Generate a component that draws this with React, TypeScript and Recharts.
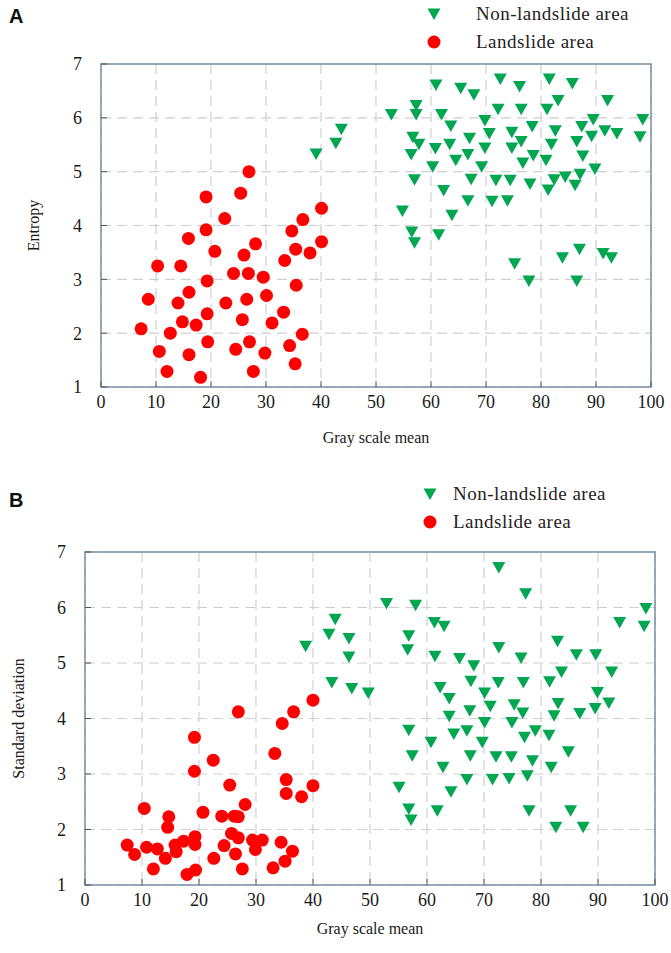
import React from 'react';
import { ScatterChart, Scatter, XAxis, YAxis, CartesianGrid, ReferenceArea, Legend } from 'recharts';

const GREEN = '#00a651';
const RED = '#ff0000';
const FRAME = '#7890ab';
const SERIF = '"Liberation Serif", "Times New Roman", serif';

const xTicks = [0, 10, 20, 30, 40, 50, 60, 70, 80, 90, 100];
const yTicks = [1, 2, 3, 4, 5, 6, 7];
const nonLandslideName = 'Non-landslide area';
const landslideName = 'Landslide area';
const legendOrder = [nonLandslideName, landslideName];

// panel A: gray scale mean vs entropy
const aNonX = [60.9, 65.4, 67.8, 72.6, 76.1, 81.5, 85.7, 83.1, 92.1, 57.3, 57.3, 52.8, 61.9, 72.2, 76.4, 81.1, 69.8, 63.6, 89.5, 98.5, 43.7, 42.7, 39.1, 78.4, 70.6, 74.7, 82.6, 87.4, 89.2, 91.6, 93.8, 98.0, 56.7, 57.8, 67.0, 63.4, 60.8, 56.4, 69.8, 74.7, 76.4, 81.9, 86.5, 66.7, 64.5, 78.6, 76.7, 80.9, 87.6, 60.3, 69.2, 89.8, 57.0, 67.3, 71.8, 74.4, 78.0, 82.4, 84.4, 87.1, 81.3, 86.2, 62.3, 66.7, 71.1, 73.9, 54.8, 63.8, 56.5, 57.0, 61.4, 75.2, 77.8, 83.9, 87.0, 86.5, 91.3, 92.8];
const aNonY = [6.61, 6.55, 6.43, 6.72, 6.58, 6.72, 6.64, 6.32, 6.32, 6.23, 6.06, 6.06, 6.06, 6.16, 6.16, 6.16, 5.95, 5.85, 5.97, 5.97, 5.79, 5.53, 5.33, 5.84, 5.71, 5.73, 5.76, 5.84, 5.66, 5.76, 5.71, 5.65, 5.64, 5.51, 5.62, 5.51, 5.43, 5.32, 5.44, 5.44, 5.56, 5.51, 5.56, 5.32, 5.21, 5.30, 5.16, 5.21, 5.29, 5.09, 5.09, 5.05, 4.85, 4.86, 4.84, 4.84, 4.77, 4.85, 4.90, 4.95, 4.66, 4.75, 4.65, 4.46, 4.45, 4.46, 4.27, 4.19, 3.88, 3.68, 3.83, 3.29, 2.97, 3.40, 3.56, 2.97, 3.48, 3.40];
const aLandX = [26.9, 19.1, 25.4, 40.1, 22.5, 36.7, 19.1, 34.7, 15.9, 40.1, 28.1, 20.7, 35.4, 26.0, 38.0, 33.4, 10.3, 14.5, 24.1, 26.8, 29.5, 19.3, 35.5, 8.6, 16.0, 14.0, 22.7, 26.5, 30.1, 33.2, 19.3, 14.8, 17.3, 25.7, 31.1, 7.3, 12.6, 36.6, 10.6, 16.0, 19.4, 24.5, 27.0, 29.8, 34.3, 35.3, 12.0, 18.1, 27.7];
const aLandY = [5.0, 4.53, 4.60, 4.32, 4.13, 4.11, 3.92, 3.90, 3.76, 3.70, 3.66, 3.52, 3.56, 3.45, 3.49, 3.35, 3.25, 3.25, 3.11, 3.11, 3.04, 2.97, 2.89, 2.63, 2.76, 2.56, 2.56, 2.63, 2.70, 2.39, 2.36, 2.21, 2.15, 2.25, 2.19, 2.08, 2.0, 1.98, 1.66, 1.60, 1.84, 1.70, 1.84, 1.63, 1.77, 1.43, 1.29, 1.18, 1.29];

// panel B: gray scale mean vs standard deviation
const bNonX = [72.6, 77.3, 52.9, 58.0, 98.4, 43.9, 61.3, 63.0, 93.8, 98.1, 42.8, 46.3, 56.8, 38.7, 56.6, 46.3, 72.6, 82.9, 61.4, 65.7, 68.2, 76.5, 86.2, 89.6, 43.3, 46.8, 49.7, 62.3, 63.9, 67.7, 70.1, 72.5, 76.9, 81.5, 83.6, 92.4, 89.9, 71.1, 75.3, 83.0, 89.5, 91.9, 63.9, 67.5, 70.1, 74.9, 76.8, 82.3, 86.8, 56.8, 60.7, 64.7, 67.0, 69.7, 77.1, 79.0, 81.4, 57.4, 67.6, 72.1, 74.8, 78.5, 84.8, 62.8, 81.8, 67.0, 71.5, 74.4, 77.6, 55.1, 64.2, 56.8, 57.2, 61.8, 77.9, 85.2, 82.6, 87.4];
const bNonY = [6.72, 6.25, 6.07, 6.04, 5.98, 5.79, 5.73, 5.66, 5.73, 5.66, 5.52, 5.44, 5.49, 5.30, 5.24, 5.11, 5.28, 5.39, 5.12, 5.08, 4.95, 5.09, 5.15, 5.15, 4.65, 4.54, 4.46, 4.56, 4.36, 4.67, 4.46, 4.65, 4.65, 4.66, 4.84, 4.84, 4.47, 4.22, 4.25, 4.27, 4.18, 4.28, 4.04, 4.14, 3.93, 3.93, 4.10, 4.05, 4.09, 3.79, 3.57, 3.72, 3.78, 3.57, 3.66, 3.78, 3.70, 3.33, 3.33, 3.31, 3.31, 3.24, 3.40, 3.12, 3.12, 2.90, 2.90, 2.92, 2.97, 2.76, 2.68, 2.37, 2.17, 2.34, 2.34, 2.34, 2.04, 2.04];
const bLandX = [40.0, 26.9, 36.6, 34.6, 19.2, 22.5, 33.3, 19.2, 25.4, 35.3, 35.3, 40.0, 38.0, 10.4, 14.7, 14.5, 20.7, 24.0, 26.2, 26.9, 28.1, 25.7, 26.9, 19.3, 17.3, 19.3, 15.8, 16.0, 7.4, 8.7, 10.8, 12.7, 14.1, 12.0, 17.9, 19.4, 22.6, 24.4, 26.4, 27.6, 29.4, 31.1, 29.9, 34.4, 36.4, 35.1, 33.0];
const bLandY = [4.33, 4.12, 4.12, 3.91, 3.66, 3.25, 3.37, 3.05, 2.80, 2.90, 2.65, 2.79, 2.59, 2.38, 2.23, 2.04, 2.31, 2.24, 2.24, 2.23, 2.45, 1.93, 1.85, 1.87, 1.79, 1.73, 1.72, 1.60, 1.72, 1.55, 1.68, 1.65, 1.48, 1.29, 1.19, 1.27, 1.48, 1.71, 1.56, 1.29, 1.81, 1.81, 1.64, 1.77, 1.61, 1.43, 1.31];

const toPoints = (xs: number[], ys: number[]) => xs.map((x, i) => ({ x, y: ys[i] }));

const DownTriangle = (props: any) => {
  const { cx, cy } = props;
  return <polygon points={`${cx - 6.5},${cy - 5.5} ${cx + 6.5},${cy - 5.5} ${cx},${cy + 6}`} fill={GREEN} />;
};

const RedDot = (props: any) => <circle cx={props.cx} cy={props.cy} r={6.5} fill={RED} />;

// legend: triangle row first, like the figure
const makeLegend = (gap: number) => ({ payload }: any) => {
  const items = [...(payload || [])].sort(
    (a: any, b: any) => legendOrder.indexOf(a.value) - legendOrder.indexOf(b.value)
  );
  return (
    <div style={{ width: 240 }}>
      {items.map((entry: any) => (
        <div key={entry.value} style={{ height: 28, display: 'flex', alignItems: 'center' }}>
          <svg width={16} height={16}>
            {entry.value === nonLandslideName ? (
              <polygon points="1.5,2.5 14.5,2.5 8,14" fill={GREEN} />
            ) : (
              <circle cx={8} cy={8} r={6.5} fill={RED} />
            )}
          </svg>
          <span style={{ marginLeft: gap, fontSize: 19, letterSpacing: 0.5, color: '#222', fontFamily: SERIF }}>
            {entry.value}
          </span>
        </div>
      ))}
    </div>
  );
};

const tickStyle = { fill: '#1a1a1a', fontSize: 18, fontFamily: SERIF };
const titleStyle = { fill: '#1a1a1a', fontSize: 16, fontFamily: SERIF };

interface PanelProps {
  height: number;
  margin: { top: number; right: number; bottom: number; left: number };
  yWidth: number;
  yTitle: string;
  yTitleOffset: number;
  xTitleOffset: number;
  non: { x: number; y: number }[];
  land: { x: number; y: number }[];
  legendLeft: number;
  legendTop: number;
  legendGap: number;
}

const Panel = (p: PanelProps) => (
  <ScatterChart width={671} height={p.height} margin={p.margin}>
    <CartesianGrid strokeDasharray="10 6" stroke="#d0d0d0" strokeWidth={1.2} />
    <XAxis
      type="number"
      dataKey="x"
      domain={[0, 100]}
      ticks={xTicks}
      interval={0}
      axisLine={false}
      tickSize={-6}
      tickMargin={14}
      tickLine={{ stroke: '#555' }}
      tick={tickStyle}
      height={30}
      label={{ value: 'Gray scale mean', position: 'bottom', offset: p.xTitleOffset, style: titleStyle }}
    />
    <YAxis
      type="number"
      dataKey="y"
      domain={[1, 7]}
      ticks={yTicks}
      interval={0}
      axisLine={false}
      tickSize={-6}
      tickMargin={25}
      tickLine={{ stroke: '#555' }}
      tick={tickStyle}
      width={p.yWidth}
      label={{ value: p.yTitle, angle: -90, position: 'insideLeft', offset: p.yTitleOffset, style: { ...titleStyle, textAnchor: 'middle' } }}
    />
    <ReferenceArea x1={0} x2={100} y1={1} y2={7} fill="none" stroke={FRAME} strokeWidth={1.5} ifOverflow="visible" />
    <Legend
      verticalAlign="middle"
      align="center"
      content={makeLegend(p.legendGap)}
      wrapperStyle={{ left: p.legendLeft, top: p.legendTop, width: 240 }}
    />
    <Scatter name={nonLandslideName} data={p.non} fill={GREEN} shape={DownTriangle} isAnimationActive={false} />
    <Scatter name={landslideName} data={p.land} fill={RED} shape={RedDot} isAnimationActive={false} />
  </ScatterChart>
);

const letterStyle: React.CSSProperties = {
  position: 'absolute',
  left: 9,
  fontFamily: '"Liberation Sans", Arial, sans-serif',
  fontWeight: 'bold',
  fontSize: 20,
  lineHeight: '20px',
  color: '#111',
};

export default function App() {
  return (
    <div
      style={{
        position: 'absolute',
        left: 0,
        top: 0,
        width: 671,
        height: 953,
        background: '#fff',
        overflow: 'hidden',
        fontFamily: SERIF,
      }}
    >
      <style>{`.recharts-text, .recharts-label, .recharts-cartesian-axis-tick-value { font-family: "Liberation Serif", "Times New Roman", serif; }`}</style>
      <div style={{ position: 'absolute', left: 0, top: 0 }}>
        <Panel
          height={476}
          margin={{ top: 64, right: 20, bottom: 59, left: 0 }}
          yWidth={101}
          yTitle="Entropy"
          yTitleOffset={33}
          xTitleOffset={15}
          non={toPoints(aNonX, aNonY)}
          land={toPoints(aLandX, aLandY)}
          legendLeft={426}
          legendTop={0}
          legendGap={34}
        />
      </div>
      <div style={{ position: 'absolute', left: 0, top: 476 }}>
        <Panel
          height={477}
          margin={{ top: 76, right: 16, bottom: 38, left: 0 }}
          yWidth={85}
          yTitle="Standard deviation"
          yTitleOffset={18}
          xTitleOffset={8}
          non={toPoints(bNonX, bNonY)}
          land={toPoints(bLandX, bLandY)}
          legendLeft={422}
          legendTop={4}
          legendGap={15}
        />
      </div>
      <div style={{ ...letterStyle, top: 6 }}>A</div>
      <div style={{ ...letterStyle, top: 490 }}>B</div>
    </div>
  );
}
